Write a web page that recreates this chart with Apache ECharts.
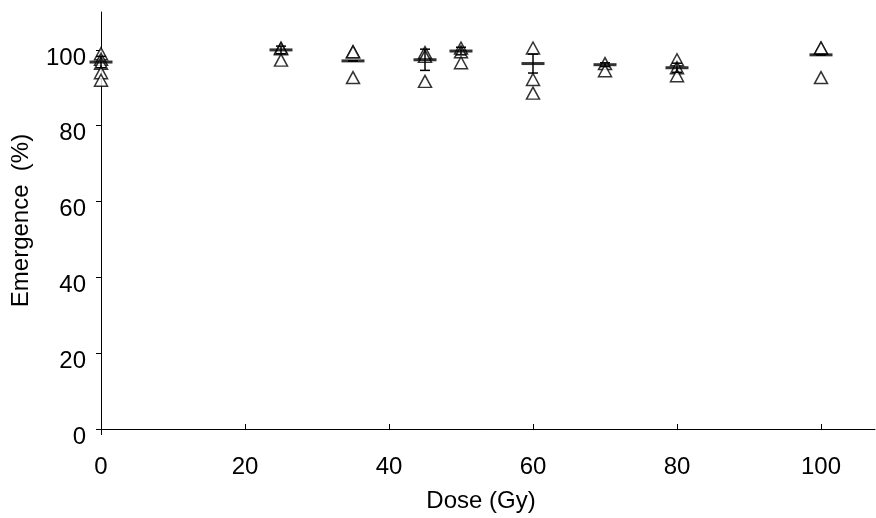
<!DOCTYPE html>
<html>
<head>
<meta charset="utf-8">
<script src="https://cdn.jsdelivr.net/npm/echarts@6/dist/echarts.min.js"></script>
<style>html,body{margin:0;padding:0;background:#fff}#c{width:876px;height:518px}</style>
</head>
<body>
<div id="c"></div>
<script>
const doses = [0, 25, 35, 45, 50, 60, 70, 80, 100];
const replicates = [
  [99, 97.5, 96.5, 94, 92],
  [100.5, 100.3, 97.3],
  [99.5, 99.5, 92.7],
  [99.3, 98.3, 91.7],
  [100.5, 99.5, 96.6],
  [100.5, 92.2, 88.6],
  [96.4, 94.5],
  [97.4, 95.3, 93.2],
  [100.5, 100.5, 92.7]
];
const means = [96.8, 100, 97.1, 97.4, 99.7, 96.4, 96.1, 95.3, 98.7];
const errors = [1.5, 1, 0, 2.8, 1, 2.5, 0.5, 1.2, 0];
const xTicks = [0, 20, 40, 60, 80, 100];
const yTicks = [0, 20, 40, 60, 80, 100];

const pointData = [];
doses.forEach((d, i) => replicates[i].forEach(v => pointData.push([d, v])));
const meanData = doses.map((d, i) => [d, means[i]]);
const errData = doses.map((d, i) => [d, means[i] - errors[i], means[i] + errors[i]]);

const font = 'Liberation Sans, Arial, sans-serif';
const chart = echarts.init(document.getElementById('c'), null, {renderer: 'canvas'});
chart.setOption({
  animation: false,
  backgroundColor: '#fff',
  grid: {left: 101, right: 1, top: 12, bottom: 83, containLabel: false},
  xAxis: [{
    type: 'value', min: 0, max: 107.5,
    name: 'Dose (Gy)', nameLocation: 'middle', nameGap: 60,
    nameTextStyle: {fontFamily: font, fontSize: 24, color: '#000', padding: [0, 14, 0, 0]},
    axisLine: {show: true, onZero: false, lineStyle: {color: '#000', width: 1}},
    axisTick: {show: true, inside: true, length: 5, customValues: xTicks, lineStyle: {color: '#000'}},
    axisLabel: {customValues: xTicks, fontFamily: font, fontSize: 24, color: '#000', margin: 26},
    splitLine: {show: false}
  }, {
    type: 'value', min: 0, max: 107.5, position: 'bottom', offset: 0,
    axisLine: {show: false},
    axisTick: {show: true, inside: false, length: 6, customValues: [0], lineStyle: {color: '#000'}},
    axisLabel: {show: false},
    splitLine: {show: false}
  }],
  yAxis: {
    type: 'value', min: 0, max: 110,
    name: 'Emergence  (%)', nameLocation: 'middle', nameGap: 68,
    nameTextStyle: {fontFamily: font, fontSize: 24, color: '#000'},
    axisLine: {show: true, onZero: false, lineStyle: {color: '#000', width: 1}},
    axisTick: {show: true, inside: false, length: 5, customValues: yTicks, lineStyle: {color: '#000'}},
    axisLabel: {customValues: yTicks, fontFamily: font, fontSize: 24, color: '#000', margin: 15, verticalAlign: 'top', lineHeight: 16},
    splitLine: {show: false}
  },
  series: [
    {
      type: 'scatter', data: pointData, symbol: 'triangle', symbolSize: [13, 12],
      itemStyle: {color: '#fff', borderColor: '#000', borderWidth: 1.5}, z: 2
    },
    {
      type: 'custom', data: errData, z: 3,
      renderItem: function (params, api) {
        const x = api.value(0);
        const lo = api.coord([x, api.value(1)]);
        const hi = api.coord([x, api.value(2)]);
        const cw = 5;
        const style = {stroke: '#000', lineWidth: 1.5};
        return {type: 'group', children: [
          {type: 'line', shape: {x1: lo[0], y1: lo[1], x2: hi[0], y2: hi[1]}, style: style},
          {type: 'line', shape: {x1: lo[0] - cw, y1: lo[1], x2: lo[0] + cw, y2: lo[1]}, style: style},
          {type: 'line', shape: {x1: hi[0] - cw, y1: hi[1], x2: hi[0] + cw, y2: hi[1]}, style: style}
        ]};
      }
    },
    {
      type: 'scatter', data: meanData, symbol: 'rect', symbolSize: [23, 3],
      itemStyle: {color: '#000'}, z: 4
    }
  ]
});
</script>
</body>
</html>
